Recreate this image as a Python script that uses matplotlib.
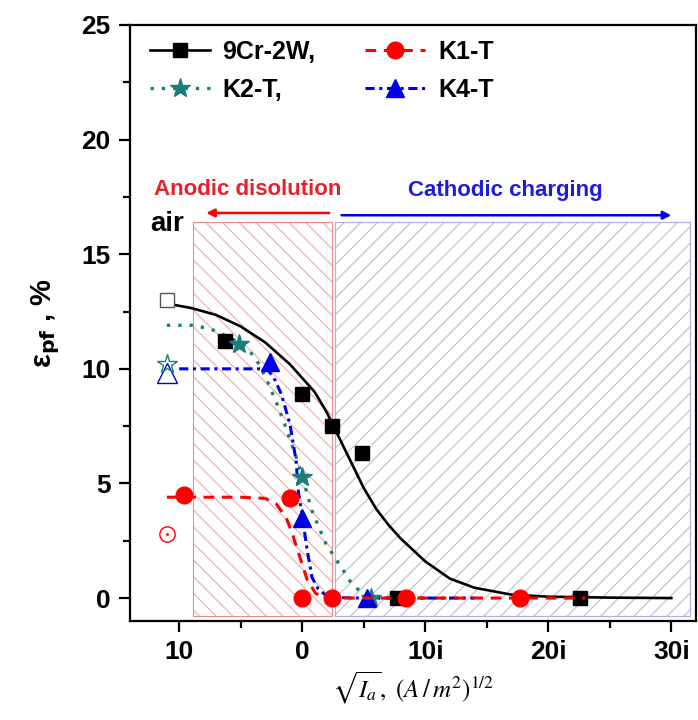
import numpy as np
import matplotlib
matplotlib.use("Agg")
import matplotlib.pyplot as plt
import matplotlib.patches as mpatches
from matplotlib.lines import Line2D

plt.rcParams.update({"font.family": ["Liberation Sans", "DejaVu Sans"],
                     "hatch.linewidth": 0.9})

# --- measured points -------------------------------------------------------
cr_x = [-6.25, 0.0, 2.4, 4.9, 7.7, 22.6]
cr_y = [11.2, 8.9, 7.5, 6.35, 0.0, 0.0]
k1_x = [-9.6, -1.0, 0.0, 2.4, 8.4, 17.7]
k1_y = [4.5, 4.35, 0.0, 0.0, 0.0, 0.0]
k2_x = [-5.1, 0.0, 5.6]
k2_y = [11.1, 5.3, 0.0]
k4_x = [-2.6, 0.0, 5.3]
k4_y = [10.3, 3.5, 0.0]

# values in air (open symbols)
air_x = -11.0
air_cr, air_k2, air_k4, air_k1 = 13.0, 10.2, 9.8, 2.8

# --- fitted curves --------------------------------------------------------
cr_fit_x = [-11, -9, -7, -5, -3, -1, 0, 1, 2, 3, 4, 5, 6, 7, 8, 10, 12, 14,
            17, 20, 25, 30]
cr_fit_y = [12.85, 12.65, 12.35, 11.85, 11.15, 10.2, 9.6, 9.0, 8.1, 7.0,
            5.9, 4.8, 3.9, 3.2, 2.6, 1.6, 0.85, 0.45, 0.15, 0.06, 0.02, 0.0]
k2_fit_x = [-11, -9, -7.5, -6, -5, -4.3, -3.5, -2.7, -2, -1.3, -0.4, 0, 0.8,
            1.9, 2.8, 4.0, 5, 6, 8, 10]
k2_fit_y = [11.9, 11.9, 11.75, 11.4, 11.1, 10.8, 10.2, 9.3, 8.4, 7.4, 6.0,
            5.3, 3.8, 2.4, 1.65, 0.65, 0.15, 0.05, 0.0, 0.0]
k4_fit_x = [-10, -8, -5, -3, -2.7, -2.2, -1.7, -1.0, -0.5, -0.3, 0, 0.4, 0.8,
            1.3, 1.9, 3, 5, 8, 14]
k4_fit_y = [10, 10, 10, 10, 9.9, 9.5, 8.9, 7.6, 6.0, 4.6, 3.6, 2.1, 0.9,
            0.4, 0.13, 0.02, 0, 0, 0]
k1_fit_x = [-11, -8, -5, -3, -2.1, -1.3, -0.8, -0.2, 0.4, 1.1, 2, 4, 8, 12,
            17, 20, 23]
k1_fit_y = [4.4, 4.4, 4.4, 4.35, 4.1, 3.5, 2.8, 1.8, 0.8, 0.2, 0.03, 0, 0,
            0, 0, 0, 0]

x_ticks = [-10, 0, 10, 20, 30]
x_ticklabels = ["10", "0", "10i", "20i", "30i"]
y_ticks = [0, 5, 10, 15, 20, 25]

BLACK = "black"
TEAL = "#1a7f78"
RED = "#ff0000"
BLUE = "#0000e6"

K2_LS = (0, (1, 2.4))
K4_LS = (0, (3, 1.5, 1, 1.5))
K1_LS = (0, (3.5, 2.5))

fig = plt.figure(figsize=(6.98, 7.2), dpi=100)
ax = fig.add_axes([0.1862, 0.1375, 0.8108, 0.8278])

# shaded regions
ax.add_patch(mpatches.Rectangle((-8.9, -0.8), 11.3, 17.2, fill=False,
                                hatch="\\\\", edgecolor="#ebb4b4", lw=0, zorder=0))
ax.add_patch(mpatches.Rectangle((-8.9, -0.8), 11.3, 17.2, fill=False,
                                edgecolor="#f08a8a", lw=0.8, zorder=0))
ax.add_patch(mpatches.Rectangle((2.7, -0.8), 28.8, 17.2, fill=False,
                                hatch="//", edgecolor="#c4c4cc", lw=0, zorder=0))
ax.add_patch(mpatches.Rectangle((2.7, -0.8), 28.8, 17.2, fill=False,
                                edgecolor="#b0b0ec", lw=0.9, zorder=0))

# curves
ax.plot(cr_fit_x, cr_fit_y, color=BLACK, lw=1.9, zorder=3)
ax.plot(k2_fit_x, k2_fit_y, color=TEAL, lw=2.4, ls=K2_LS, zorder=3)
ax.plot(k4_fit_x, k4_fit_y, color=BLUE, lw=2.2, ls=K4_LS, zorder=3)

# markers
ax.plot(cr_x, cr_y, "s", color=BLACK, ms=10, zorder=4)
ax.plot(k2_x, k2_y, "*", color=TEAL, ms=15, zorder=5)
ax.plot(k4_x, k4_y, "^", color=BLUE, ms=13, zorder=5)
ax.plot(k1_fit_x, k1_fit_y, color=RED, lw=2.2, ls=K1_LS, zorder=6)
ax.plot(k1_x, k1_y, "o", color=RED, ms=12, zorder=6)

# open symbols (air)
ax.plot([air_x], [air_cr], "s", mfc="white", mec="#555555", mew=1.0, ms=10, zorder=5)
ax.plot([air_x], [air_k4], "^", mfc="none", mec=BLUE, mew=1.0, ms=14, zorder=5)
ax.plot([air_x], [air_k2], "*", mfc="none", mec=TEAL, mew=1.0, ms=15, zorder=5)
ax.plot([air_x], [air_k1], "o", mfc="none", mec=RED, mew=1.0, ms=11, zorder=5)
ax.plot([air_x], [air_k1], ".", color=RED, ms=2, zorder=5)

# annotations
ax.annotate("", xy=(-7.8, 16.8), xytext=(2.2, 16.8),
            arrowprops=dict(arrowstyle="-|>", color=RED, lw=1.8,
                            mutation_scale=12, shrinkA=0, shrinkB=0))
ax.annotate("", xy=(30.0, 16.7), xytext=(3.2, 16.7),
            arrowprops=dict(arrowstyle="-|>", color=BLUE, lw=1.8,
                            mutation_scale=12, shrinkA=0, shrinkB=0))
ax.text(-4.4, 17.6, "Anodic disolution", color="#e8202a", fontsize=16,
        fontweight="bold", ha="center", va="baseline")
ax.text(16.5, 17.55, "Cathodic charging", color="#1c1ce0", fontsize=16,
        fontweight="bold", ha="center", va="baseline")
ax.text(-11.0, 16.0, "air", color="black", fontsize=20,
        fontweight="bold", ha="center", va="baseline")

# legend
handles = [
    Line2D([], [], color=BLACK, lw=1.9, marker="s", ms=10),
    Line2D([], [], color=TEAL, lw=2.4, ls=K2_LS, marker="*", ms=15),
    Line2D([], [], color=RED, lw=2.2, ls=K1_LS, marker="o", ms=12),
    Line2D([], [], color=BLUE, lw=2.2, ls=K4_LS, marker="^", ms=13),
]
labels = ["9Cr-2W,", "K2-T,", "K1-T", "K4-T"]
ax.legend(handles, labels, ncol=2, loc="upper left", frameon=False,
          bbox_to_anchor=(0.035, 0.975), borderaxespad=0, borderpad=0,
          prop={"size": 18, "weight": "bold"}, handlelength=2.4,
          handletextpad=0.5, columnspacing=2.0, labelspacing=0.55)

# axes
ax.set_xlim(-14, 32)
ax.set_ylim(-1, 25)
ax.set_xticks(x_ticks)
ax.set_xticklabels(x_ticklabels)
ax.set_xticks([-5, 5, 15, 25], minor=True)
ax.set_yticks(y_ticks)
ax.set_yticks([2.5, 7.5, 12.5, 17.5, 22.5], minor=True)
ax.tick_params(which="major", direction="out", length=8, width=1.6,
               labelsize=19, pad=6)
ax.tick_params(which="minor", direction="out", length=5, width=1.6)
for lab in ax.get_xticklabels() + ax.get_yticklabels():
    lab.set_fontweight("bold")
for s in ax.spines.values():
    s.set_linewidth(1.6)

ax.set_ylabel(r"ε$_{\mathbf{pf}}$ , %", fontsize=21, fontweight="bold", labelpad=14)
ax.set_xlabel(r"$\sqrt{I_a},\ (A\,/\,m^2)^{1/2}$", fontsize=18,
              math_fontfamily="stix", labelpad=4)

fig.savefig("out.png", dpi=100)
